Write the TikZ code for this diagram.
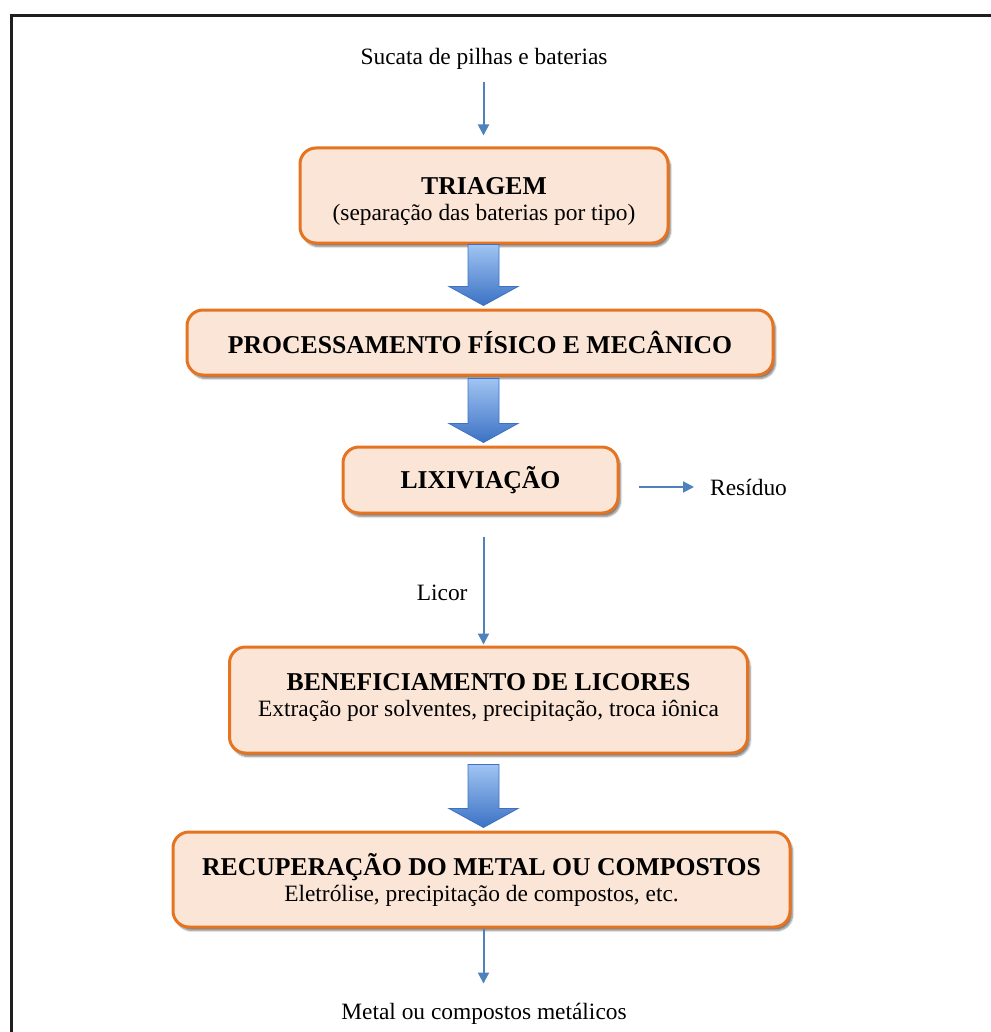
\documentclass[tikz,border=0pt]{standalone}
\usepackage{fontspec}
\setmainfont{Liberation Serif}
\usepackage{xcolor}
\definecolor{boxorange}{RGB}{230,115,32}
\definecolor{boxfill}{RGB}{250,229,214}
\definecolor{flowblue}{RGB}{79,129,189}
\definecolor{arrowlight}{RGB}{160,196,242}
\definecolor{arrowdark}{RGB}{60,114,196}
\definecolor{framegray}{gray}{.12}
\usepackage{tikz}
\usetikzlibrary{arrows.meta}
\usetikzlibrary{calc}
\usetikzlibrary{shadows.blur}
\newcommand{\txt}{\fontsize{23.4}{26}\selectfont}
\newcommand{\ttl}{\fontsize{25.7}{26}\selectfont\bfseries}
\newcommand{\halfshaft}{15.5pt}
\newcommand{\halfhead}{34.5pt}
\newcommand{\headlength}{19pt}
\newcommand{\bigarrow}[3]{
    \path[bigflow] let \p1=(axis), \p2=(#1.south), \p3=(#2.north) in
        (\x1-\halfshaft,\y2-#3) -- (\x1+\halfshaft,\y2-#3)
        -- (\x1+\halfshaft,\y3+3pt+\headlength) -- (\x1+\halfhead,\y3+3pt+\headlength)
        -- (\x1,\y3+3pt)
        -- (\x1-\halfhead,\y3+3pt+\headlength) -- (\x1-\halfshaft,\y3+3pt+\headlength) -- cycle;
}
\tikzset{
    plain/.style={font=\txt, inner sep=0pt},
    stage/.style={plain, draw=boxorange, line width=3pt, fill=boxfill, rounded corners=16pt, align=center,
        blur shadow={shadow xshift=2.5pt, shadow yshift=-3.5pt, shadow blur steps=6, shadow opacity=50}},
    flow/.style={draw=flowblue, line width=2pt, -{Triangle[width=11pt,length=11pt]}},
    bigflow/.style={top color=arrowlight, bottom color=arrowdark, draw=arrowdark, line width=0.8pt}
}

\begin{document}
\begin{tikzpicture}[x=1pt, y=1pt]
    \useasboundingbox (0,0) rectangle (990,-1032);
    \draw[framegray, line width=2.5pt] (11.5,-1045) -- (11.5,-15.5) -- (1005,-15.5);
    \coordinate (axis) at (483.5,0);

    \node[plain, anchor=base] (sucata) at (484,-65) {Sucata de pilhas e baterias};
    \node[stage, minimum width=368pt, minimum height=95pt] (triagem) at (484,-195.5)
        {{\ttl\rule{0pt}{28pt}TRIAGEM}\\(separação das baterias por tipo)};
    \node[stage, minimum width=586pt, minimum height=65pt] (processamento) at (480,-342.5)
        {\ttl PROCESSAMENTO FÍSICO E MECÂNICO};
    \node[stage, minimum width=275pt, minimum height=66pt] (lixiviacao) at (480.5,-480)
        {\ttl LIXIVIAÇÃO};
    \node[plain, anchor=base west] (residuo) at (710,-495) {Resíduo};
    \node[stage, minimum width=518pt, minimum height=106pt] (beneficiamento) at (488.5,-700)
        {{\ttl BENEFICIAMENTO DE LICORES}\\Extração por solventes, precipitação, troca iônica\rule[-11pt]{0pt}{11pt}};
    \node[stage, minimum width=617pt, minimum height=95pt] (recuperacao) at (481.5,-879.5)
        {{\ttl RECUPERAÇÃO DO METAL OU COMPOSTOS}\\Eletrólise, precipitação de compostos, etc.};
    \node[plain, anchor=base] (metal) at (484,-1019) {Metal ou compostos metálicos};

    \draw[flow, shorten <=12pt, shorten >=11pt] (sucata.south -| axis) -- (triagem.north -| axis);
    \bigarrow{triagem}{processamento}{0pt}
    \bigarrow{processamento}{lixiviacao}{2pt}
    \draw[flow, shorten <=19pt, shorten >=16pt] (lixiviacao.east |- residuo.west) -- (residuo.west);
    \draw[flow, shorten <=22pt, shorten >=1pt] (lixiviacao.south -| axis)
        -- node[plain, pos=0.6, left=15pt] (licor) {Licor} (beneficiamento.north -| axis);
    \bigarrow{beneficiamento}{recuperacao}{10pt}
    \draw[flow, shorten >=19pt] (recuperacao.south -| axis) -- (metal.north -| axis);
\end{tikzpicture}
\end{document}
